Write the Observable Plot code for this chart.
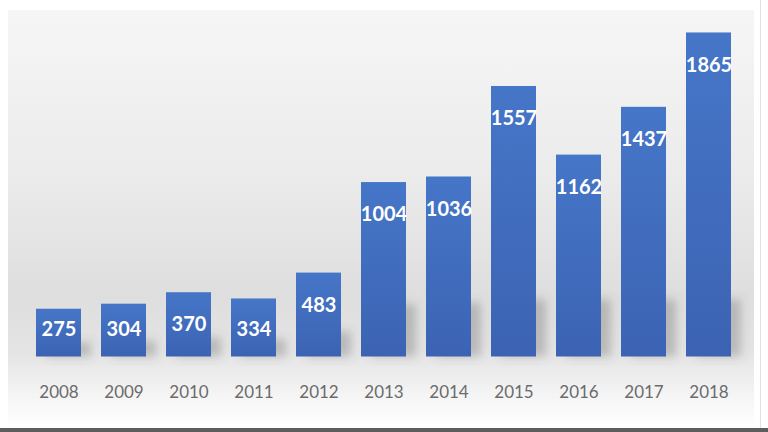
<!DOCTYPE html>
<html><head><meta charset="utf-8">
<script src="https://cdn.jsdelivr.net/npm/d3@7"></script>
<script src="https://cdn.jsdelivr.net/npm/@observablehq/plot@0.6"></script>
<style>
html,body{margin:0;padding:0;background:#fff;}
#wrap{position:relative;width:768px;height:432px;overflow:hidden;background:#fff;}
#panel{position:absolute;left:8px;top:10px;width:746px;height:418px;
  background:linear-gradient(to bottom,#f6f6f6 0%,#ebebeb 40%,#dedede 68%,#e4e4e4 82%,#f6f6f6 93%,#ffffff 100%);}
#rline{position:absolute;left:760px;top:0;width:1px;height:428px;background:#e2e2e2;}
#bline{position:absolute;left:0;top:428px;width:768px;height:4px;background:#5d5d5d;}
#chart{position:absolute;left:0;top:0;}
</style>
</head><body>
<div id="wrap"><div id="panel"></div><div id="rline"></div><div id="bline"></div><div id="chart"></div></div>
<script>
const years = ["2008","2009","2010","2011","2012","2013","2014","2015","2016","2017","2018"];
const values = [275,304,370,334,483,1004,1036,1557,1162,1437,1865];
const data = years.map((y,i)=>({year:y, value:values[i]}));

const plot = Plot.plot({
  width:768, height:432,
  marginLeft:15, marginRight:17, marginTop:9, marginBottom:75.5,
  style:{background:"transparent", fontFamily:"Lato, sans-serif"},
  x:{domain:years, padding:0.31, axis:null},
  y:{domain:[0,2000], axis:null},
  marks:[
    Plot.barY(data,{x:"year", y:d=>Math.min(d.value*0.3,330), fill:"#555", fillOpacity:0.3, dx:10}),
    Plot.barY(data,{x:"year", y:"value", fill:"url(#barGrad)"}),
    Plot.axisX({tickSize:0, tickPadding:29, fontSize:17, fill:"#6b6b6b", label:null, fontFamily:"Lato, sans-serif"}),
    Plot.text(data,{x:"year", y:d=>Math.max(d.value-185,160), text:d=>String(d.value),
      fill:"white", fontSize:20, fontWeight:"bold", fontFamily:"Lato, sans-serif", letterSpacing:"-0.5px"})
  ]
});
const svg = d3.select(plot);
const defs = svg.insert("defs",":first-child");
const g = defs.append("linearGradient").attr("id","barGrad").attr("x1",0).attr("y1",0).attr("x2",0).attr("y2",1);
g.append("stop").attr("offset","0%").attr("stop-color","#4676c8");
g.append("stop").attr("offset","100%").attr("stop-color","#3c63b3");
defs.append("filter").attr("id","blur").attr("x","-50%").attr("y","-50%").attr("width","200%").attr("height","200%")
  .append("feGaussianBlur").attr("stdDeviation",5);
const groups = svg.selectAll('g[aria-label="bar"]');
d3.select(groups.nodes()[0]).attr("filter","url(#blur)");
document.getElementById("chart").appendChild(plot);
</script>
</body></html>
